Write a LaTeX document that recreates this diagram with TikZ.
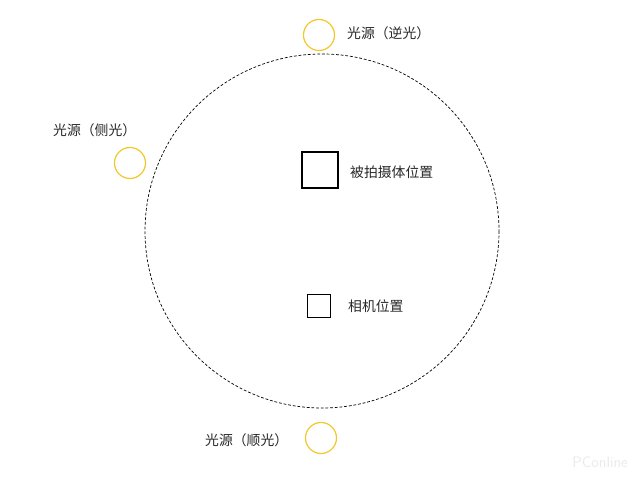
\documentclass[tikz,border=0pt]{standalone}
\usepackage{fontspec}
\newfontfamily\cjk{Noto Sans CJK SC}
\definecolor{lampyellow}{RGB}{242,200,40}
\definecolor{textgray}{RGB}{40,40,40}
\tikzset{
  lamp/.style={circle, draw=lampyellow, line width=1pt, minimum size=0.93cm, inner sep=0pt},
  spot/.style={rectangle, draw=black, line width=1.3pt, inner sep=0pt},
  lbl/.style={font=\cjk\fontsize{11.8}{13}\selectfont, text=textgray, inner sep=0pt, anchor=west}
}
\begin{document}
\begin{tikzpicture}[x=0.03cm, y=-0.03cm]
      \useasboundingbox [fill=white] (0, 0) rectangle (640, 488);
      \draw [dash pattern=on 2.4pt off 1.6pt, line width=0.6pt] (322, 231) circle [radius=177];
      \node [lamp] (back) at (319, 35) {};
      \node [lamp] (side) at (130, 163) {};
      \node [lamp] (front) at (321, 438) {};
      \node [lbl] (backlbl) at (347, 33) {光源（逆光）};
      \node [lbl] (sidelbl) at (53, 130) {光源（侧光）};
      \node [lbl] (frontlbl) at (205, 440) {光源（顺光）};
      \node [spot, minimum size=1.08cm] (subject) at (320, 170) {};
      \node [lbl] (subjectlbl) at (350, 172) {被拍摄体位置};
      \node [spot, minimum size=0.69cm] (camera) at (319, 306) {};
      \node [lbl] (cameralbl) at (348, 306) {相机位置};
      \node [font=\sffamily\fontsize{13}{13}\selectfont, text=black!8, anchor=east] (mark) at (632, 462) {PConline};
    \end{tikzpicture}
\end{document}
